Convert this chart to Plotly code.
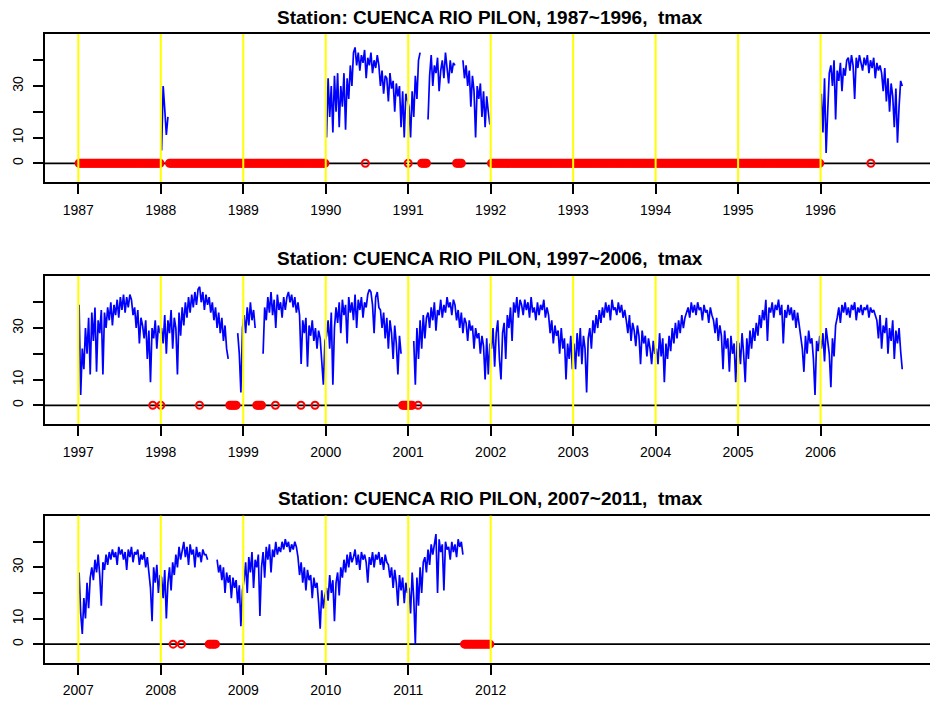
import plotly.graph_objects as go

STATION = "CUENCA RIO PILON"
VAR = "tmax"

# panel definitions
panel_first = [1987, 1997, 2007]
panel_last = [1996, 2006, 2011]
ticks_p1 = [1987, 1988, 1989, 1990, 1991, 1992, 1993, 1994, 1995, 1996]
ticks_p2 = [1997, 1998, 1999, 2000, 2001, 2002, 2003, 2004, 2005, 2006]
ticks_p3 = [2007, 2008, 2009, 2010, 2011, 2012]
y_ticks = [0, 10, 20, 30, 40]
y_ticktext = ["0", "10", "", "30", ""]

# weekly tmax values (None = missing), 52 per year
t1988 = [5, 30, 21, 11, 18]
t1990 = [10, 33, 18, 30, 12, 34, 20, 35, 14, 30, 22, 35, 13, 33, 25, 38, 30, 43,
         45, 38, 43, 36, 42, 39, 44, 33, 41, 38, 43, 35, 40, 37, 42,
         38, 30, 36, 27, 34, 33, 24, 35, 29, 32, 20, 31, 26, 30, 14, 28, 10, 27, 24]
t1991 = [22, 10, 28, 18, 34, 25, 40, 43, None, None, None, None,
         17, 34, 42, 30, 38, 35, 41, 28, 36, 40, 33, 43, 37, 31, 40, 35, 39,
         38, None, None, None, None,
         40, 33, 38, 30, 36, 22, 34, 28, 10, 30, 25, 31, 18, 28, 14, 26, 20, 15]
t1996 = [27, 12, 33, 4, 20, 35,
         38, 30, 40, 17, 36, 32, 39, 28, 37, 34, 40,
         41, 36, 42, 38, 25, 41, 37, 42, 39, 36, 41, 38, 42, 35, 40, 37, 41, 33, 39, 36, 38,
         35, 28, 37, 24, 33, 20, 31, 26, 14, 29, 8, 22, 32, 30]
t1997 = [39, 4, 22, 14, 30, 20, 34, 12, 36, 25, 38, 13, 33, 28, 37, 12,
         36, 30, 38, 33, 40, 31, 39, 35, 41, 34, 42, 37, 43, 36, 42, 38, 43,
         41, 35, 38, 30, 37, 24, 34, 31, 26, 33, 18, 29, 9,
         30, 26, 33, 22, 31, 28]
t1998 = [30, 24, 35, 20, 33, 28, 37, 22, 34, 30, 12, 36, 27,
         38, 31, 40, 34, 42, 36, 43, 38, 44, 39, 45, 46, 40, 44, 37, 43, 39, 42, 36,
         40, 33, 38, 30, 36, 28, 34, 25, 31, 22, 18,
         None, None, None, None, None,
         28, 20, 5, 30]
t1999 = [35, 28, 38, 31, 40, 33, 37, 30,
         None, None, None, None,
         20, 38, 33, 42, 36, 44, 35, 41, 30, 43, 37, 40, 34, 42,
         37, 42, 44, 40, 43, 38, 42, 36, 40,
         35, 16, 33, 28, 34, 15, 31, 27, 33, 25, 30, 22, 29, 26, 18, 8, 25]
t2000 = [27, 33, 22, 36, 8, 30,
         38, 32, 40, 28, 41, 35, 39, 24, 42, 36, 40, 33, 43, 30, 41, 37, 42, 34, 40, 38, 43,
         45, 44, 39, 28, 42, 44, 38,
         37, 30, 36, 26, 34, 22, 33, 28, 18, 31, 24, 12, 27, 20,
         None, None, None, None]
t2001 = [None, None, None,
         25, 8, 30, 18, 33, 22, 35, 26, 34,
         36, 30, 38, 33, 40, 29, 37, 35, 41, 34, 39, 36, 42, 38, 40, 35, 41,
         39, 33, 37, 30, 36, 28, 34, 32, 25, 33, 29, 31, 22, 30, 26, 28, 20, 27, 23, 10, 26, 12, 24]
t2002 = [22, 30, 15, 28, 33, 18,
         10, 28, 32, 18, 35,
         30, 38, 25, 40, 36, 42, 34, 41,
         39, 35, 41, 37, 40, 34, 42, 36, 38, 33, 40, 35, 39, 37, 41, 34, 38,
         35, 28, 33, 24, 31, 27, 29, 20, 30, 22, 26, 10, 24, 18, 27, 14]
t2003 = [24, 14, 28, 19, 30, 16, 27, 22, 5,
         26, 30, 22, 33, 28, 35, 30, 37, 32,
         38, 34, 40, 36, 39, 33, 41, 37, 38, 35, 40, 36, 39, 34, 37,
         33, 28, 35, 25, 32, 29, 23, 31, 27, 16, 29, 24, 27, 19, 26, 22, 16, 25, 20]
t2004 = [22, 16, 28, 19, 26, 9, 24, 18,
         27, 21, 30, 24, 32, 26, 33, 28, 35, 30, 34, 36,
         38, 34, 40, 36, 39, 35, 40, 37, 38, 33, 39, 36, 37, 32, 38, 35,
         33, 28, 34, 25, 31, 27, 14, 29, 22, 26, 13, 27, 20, 24, 9, 25]
t2005 = [24, 16, 28, 20, 9, 26, 18, 29, 22, 30, 25,
         32, 27, 35, 30, 37, 33, 41, 25, 38, 36, 40, 34, 39, 37, 41, 35, 39,
         24, 37, 34, 39, 35, 38, 33, 37, 30, 36, 31,
         28, 22, 13, 27, 20, 29, 24, 26, 18, 4, 25, 21, 27]
t2006 = [22, 28, 17, 30, 24, 20, 7, 26, 19, 31,
         34, 38, 32, 39, 36, 40, 35, 38, 34, 39, 37, 40, 33, 38, 36, 39, 35, 38, 37, 39, 34, 38, 36, 37, 35,
         33, 26, 35, 22, 31, 28, 34, 20, 30, 25, 33, 18, 29, 24, 30, 21, 14]
t2007 = [28, 12, 4, 18, 10, 24, 14, 26,
         30, 25, 33, 28, 35, 27, 15, 32, 29, 35, 31, 36, 33,
         37, 34, 36, 31, 38, 35, 37, 33, 36, 29, 37, 34, 38, 32, 36, 35, 37, 31, 35, 33, 36, 30, 34,
         28, 22, 9, 30, 24, 31, 20, 27]
t2008 = [26, 18, 29, 10, 24, 30, 21,
         32, 27, 35, 30, 38, 33, 36, 40, 34, 38, 31, 39, 35, 37, 30, 38, 34, 36, 32, 37, 35,
         35, 33,
         None, None, None, None, None,
         33, 28, 31, 25, 30, 20, 28, 24, 27, 18, 26, 22, 25, 16, 23, 7, 21]
t2009 = [25, 32, 20, 34, 28, 36, 22, 33, 30, 35, 11,
         30, 36, 26, 38, 33, 39, 28, 37, 34, 40, 35,
         38, 36, 40, 37, 41, 38, 40, 36, 39, 37, 40, 38,
         34, 27, 32, 24, 30, 21, 29, 25, 27, 18, 26, 22, 24, 16, 6, 21, 14, 19]
t2010 = [22, 17, 27, 20, 25, 9, 24, 28, 19, 30, 26,
         33, 28, 35, 30, 36, 32, 34, 37, 31, 35, 29, 36, 33, 35, 32,
         24, 34, 31, 36, 30, 35, 33, 36, 31, 34, 29, 35, 32,
         31, 26, 30, 22, 29, 24, 15, 27, 21, 26, 16, 24, 20]
t2011 = [22, 12, 28, 18, 0, 26, 15, 30, 20, 32,
         34, 28, 37, 31, 39, 35, 40, 43, 20, 41, 36, 39, 21, 40, 37, 38, 33, 40, 36, 39, 34, 41, 38, 40, 35]

series = {1988: t1988, 1990: t1990, 1991: t1991, 1996: t1996, 1997: t1997, 1998: t1998,
          1999: t1999, 2000: t2000, 2001: t2001, 2002: t2002, 2003: t2003, 2004: t2004,
          2005: t2005, 2006: t2006, 2007: t2007, 2008: t2008, 2009: t2009, 2010: t2010,
          2011: t2011}

# isolated missing days (decimal years) read from red circles
miss_p1 = [1990.48, 1991.0, 1996.61]
miss_p2 = [1997.903, 1998.0, 1998.47, 1999.39, 1999.70, 1999.87, 2001.12]
miss_p3 = [2008.15, 2008.25]
extra_missing = [miss_p1, miss_p2, miss_p3]
panel_ticks = [ticks_p1, ticks_p2, ticks_p3]

FONT = "Liberation Sans, Arial, Helvetica, sans-serif"
W, H = 930, 704
box_px = [(34, 182), (276, 424), (515.7, 662.7)]
title_px = [17.5, 258.5, 498]
YR = [-7.26, 50.2]

fig = go.Figure()
shapes = []
annotations = []
layout_axes = {}

for p in range(3):
    ax = "" if p == 0 else str(p + 1)
    xs, ys, rx = [], [], []
    for yr in range(panel_first[p], panel_last[p] + 1):
        vals = list(series.get(yr, []))
        vals = (vals + [None] * 52)[:52]
        for i in range(52):
            xv = yr + (i + 0.5) / 52.0
            xs.append(xv)
            ys.append(vals[i])
            if vals[i] is None:
                rx.append(xv)
    rx = rx + extra_missing[p]

    fig.add_trace(go.Scatter(x=xs, y=ys, mode="lines", connectgaps=False,
                             line=dict(color="#0000FF", width=1.7),
                             xaxis="x" + ax, yaxis="y" + ax, hoverinfo="skip",
                             showlegend=False))
    fig.add_trace(go.Scatter(x=rx, y=[0] * len(rx), mode="markers",
                             marker=dict(symbol="circle-open", size=7, color="#FF0000",
                                         line=dict(width=2, color="#FF0000")),
                             xaxis="x" + ax, yaxis="y" + ax, hoverinfo="skip",
                             showlegend=False))

    top, bot = box_px[p]
    first = panel_first[p]
    layout_axes["xaxis" + ax] = dict(
        domain=[0, 1], anchor="y" + ax,
        range=[first - 0.404, first + 10.327],
        tickvals=panel_ticks[p], ticktext=[str(t) for t in panel_ticks[p]],
        ticks="outside", ticklen=10, tickwidth=1.5, tickcolor="black",
        showline=True, linewidth=1.8, linecolor="black", mirror=True,
        showgrid=False, zeroline=False,
        tickfont=dict(family=FONT, size=14, color="black"),
        ticklabelstandoff=4,
    )
    layout_axes["yaxis" + ax] = dict(
        domain=[1 - bot / H, 1 - top / H], anchor="x" + ax,
        range=YR, tickvals=y_ticks, ticktext=y_ticktext, tickangle=-90,
        ticks="outside", ticklen=10, tickwidth=1.5, tickcolor="black",
        showline=True, linewidth=1.8, linecolor="black", mirror=False,
        showgrid=False, zeroline=False,
        tickfont=dict(family=FONT, size=14, color="black"),
        ticklabelstandoff=5,
    )

    # zero line
    shapes.append(dict(type="line", xref="x" + ax + " domain", yref="y" + ax,
                       x0=0, x1=1, y0=0, y1=0,
                       line=dict(color="black", width=1.8), layer="below"))
    # yellow year lines
    for yv in panel_ticks[p]:
        shapes.append(dict(type="line", xref="x" + ax, yref="y" + ax + " domain",
                           x0=yv, x1=yv, y0=0, y1=1,
                           line=dict(color="#FFFF00", width=2), layer="above"))

    annotations.append(dict(
        text="<b>Station: %s, %d~%d, &nbsp;%s</b>" % (STATION, panel_first[p], panel_last[p], VAR),
        xref="paper", yref="paper", x=(490 - 45) / (W - 45), y=1 - title_px[p] / H,
        xanchor="center", yanchor="middle", showarrow=False,
        font=dict(family=FONT, size=19, color="black")))

fig.update_layout(
    width=W, height=H,
    margin=dict(l=45, r=0, t=0, b=0),
    paper_bgcolor="white", plot_bgcolor="white",
    shapes=shapes, annotations=annotations, showlegend=False,
    **layout_axes
)

fig.write_html("out.html", config={"displayModeBar": False})

# remove the browser's default page margin so the figure sits at the window origin
with open("out.html", "r", encoding="utf-8") as f:
    html = f.read()
html = html.replace("<head>", "<head><style>html,body{margin:0;padding:0;overflow:hidden;}</style>", 1)
with open("out.html", "w", encoding="utf-8") as f:
    f.write(html)
